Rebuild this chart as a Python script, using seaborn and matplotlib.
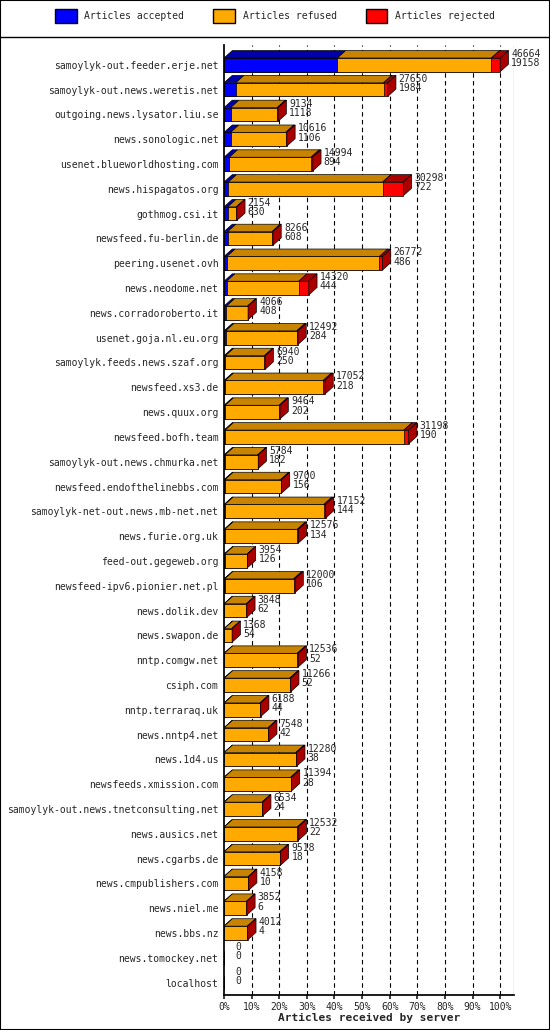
import matplotlib
matplotlib.use("Agg")
import matplotlib.pyplot as plt
import seaborn as sns
import numpy as np
import pandas as pd
from matplotlib.patches import Polygon, Patch

sns.set_theme(style="white")
plt.rcParams['font.family'] = ['DejaVu Sans Mono']

servers = ["samoylyk-out.feeder.erje.net","samoylyk-out.news.weretis.net","outgoing.news.lysator.liu.se",
"news.sonologic.net","usenet.blueworldhosting.com","news.hispagatos.org","gothmog.csi.it","newsfeed.fu-berlin.de",
"peering.usenet.ovh","news.neodome.net","news.corradoroberto.it","usenet.goja.nl.eu.org","samoylyk.feeds.news.szaf.org",
"newsfeed.xs3.de","news.quux.org","newsfeed.bofh.team","samoylyk-out.news.chmurka.net","newsfeed.endofthelinebbs.com",
"samoylyk-net-out.news.mb-net.net","news.furie.org.uk","feed-out.gegeweb.org","newsfeed-ipv6.pionier.net.pl",
"news.dolik.dev","news.swapon.de","nntp.comgw.net","csiph.com","nntp.terraraq.uk","news.nntp4.net","news.1d4.us",
"newsfeeds.xmission.com","samoylyk-out.news.tnetconsulting.net","news.ausics.net","news.cgarbs.de",
"news.cmpublishers.com","news.niel.me","news.bbs.nz","news.tomockey.net","localhost"]
totals = [46664,27650,9134,10616,14994,30298,2154,8266,26772,14320,4066,12492,6940,17052,9464,31198,5784,9700,
17152,12576,3954,12000,3848,1368,12536,11266,6188,7548,12280,11394,6534,12532,9518,4158,3852,4012,0,0]
accepted = [19158,1984,1118,1106,894,722,630,608,486,444,408,284,250,218,202,190,182,156,144,134,126,106,62,54,
52,52,44,42,38,28,24,22,18,10,6,4,0,0]
rejected = [1500,700,150,200,300,3500,60,150,500,1700,80,200,100,300,150,800,100,150,300,200,60,250,60,30,
150,150,100,100,150,150,100,150,100,60,60,60,0,0]

mx = max(totals)
n = len(servers)
acc = np.array(accepted)/mx*100
rej = np.array(rejected)/mx*100
tot = np.array(totals)/mx*100
df = pd.DataFrame({"server": servers, "tot": tot, "ar": tot-rej, "acc": acc})

fig = plt.figure(figsize=(5.5,10.3), dpi=100)
ax = fig.add_axes([224/550, 1-995/1030, 290/550, 950/1030])
h = 0.55
sns.barplot(data=df, x="tot", y="server", color="#ff0000", width=h, saturation=1, ax=ax, edgecolor="black", linewidth=0.5)
sns.barplot(data=df, x="ar", y="server", color="#ffaa00", width=h, saturation=1, ax=ax, edgecolor="black", linewidth=0.5)
sns.barplot(data=df, x="acc", y="server", color="#0000ff", width=h, saturation=1, ax=ax, edgecolor="black", linewidth=0.5)

dx, dy = 3.0, 0.3
for i in range(n):
    if tot[i] <= 0:
        continue
    segs = [(0, acc[i], "#0000aa"), (acc[i], tot[i]-rej[i], "#c88400"), (tot[i]-rej[i], tot[i], "#aa0000")]
    yt = i - h/2
    for x0, x1, c in segs:
        if x1 - x0 <= 0:
            continue
        ax.add_patch(Polygon([(x0, yt), (x1, yt), (x1+dx, yt-dy), (x0+dx, yt-dy)], closed=True,
                             facecolor=c, edgecolor="black", lw=0.5, zorder=3))
    ax.add_patch(Polygon([(tot[i], yt), (tot[i]+dx, yt-dy), (tot[i]+dx, i+h/2-dy), (tot[i], i+h/2)], closed=True,
                         facecolor="#aa0000", edgecolor="black", lw=0.5, zorder=3))

for i in range(n):
    ax.text(tot[i]+dx+1, i-0.25, f"{totals[i]}\n{accepted[i]}", fontsize=7, va="center", ha="left",
            linespacing=0.9, zorder=5)

for p in range(10, 101, 10):
    ax.axvline(p, color="black", ls=(0, (4, 3)), lw=0.8, zorder=0)
ax.axvline(105, color="black", lw=0.8)
ax.set_xlim(0, 105)
ax.set_ylim(n-0.5, -0.8)
ax.set_xticks(range(0, 101, 10))
ax.set_xticklabels([f"{p}%" for p in range(0, 101, 10)], fontsize=7)
ax.tick_params(axis="y", labelsize=7, length=0, pad=4)
ax.tick_params(axis="x", length=3, pad=2, bottom=True)
ax.set_ylabel("")
ax.set_xlabel("Articles received by server", fontsize=8, fontweight="bold", labelpad=1)
for s in ["top", "right"]:
    ax.spines[s].set_visible(False)
ax.spines["left"].set_color("black"); ax.spines["bottom"].set_color("black")

handles = [Patch(facecolor="#0000ff", edgecolor="black", label="Articles accepted"),
           Patch(facecolor="#ffaa00", edgecolor="black", label="Articles refused"),
           Patch(facecolor="#ff0000", edgecolor="black", label="Articles rejected")]
fig.legend(handles=handles, loc="upper center", bbox_to_anchor=(0.5, 1.0), ncol=3, frameon=False,
           fontsize=7, handlelength=2.2, handleheight=1.8, columnspacing=3)
fig.add_artist(plt.Line2D([0, 1], [1-37/1030]*2, color="black", lw=1, transform=fig.transFigure))
fig.add_artist(plt.Rectangle((0, 0), 1, 1, fill=False, edgecolor="black", lw=1.5, transform=fig.transFigure))
fig.savefig("out.png", dpi=100)
